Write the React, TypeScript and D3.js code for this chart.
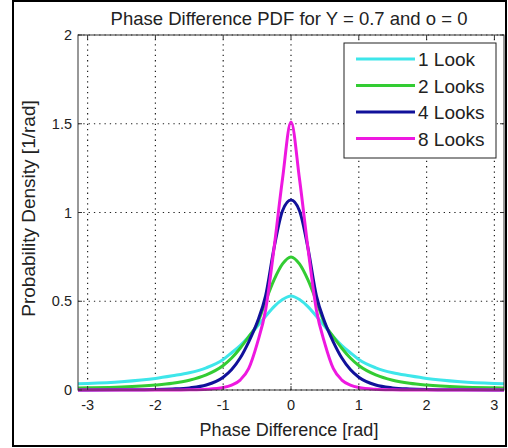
import * as d3 from 'd3';

// phase difference samples [rad]
const phase = [
  -3.1416, -3, -2.5, -2, -1.75, -1.5, -1.25, -1, -0.875, -0.75, -0.625, -0.5, -0.375, -0.25, -0.125, 0,
  0.125, 0.25, 0.375, 0.5, 0.625, 0.75, 0.875, 1, 1.25, 1.5, 1.75, 2, 2.5, 3, 3.1416,
];

// probability density [1/rad]
const look1 = [
  0.035, 0.037, 0.047, 0.065, 0.08, 0.097, 0.125, 0.172, 0.21, 0.25, 0.30, 0.357, 0.415, 0.47, 0.51, 0.53,
  0.51, 0.47, 0.415, 0.357, 0.30, 0.25, 0.21, 0.172, 0.125, 0.097, 0.08, 0.065, 0.047, 0.037, 0.035,
];
const looks2 = [
  0.011, 0.012, 0.017, 0.028, 0.038, 0.055, 0.085, 0.138, 0.18, 0.235, 0.30, 0.37, 0.50, 0.62, 0.71, 0.75,
  0.71, 0.62, 0.50, 0.37, 0.30, 0.235, 0.18, 0.138, 0.085, 0.055, 0.038, 0.028, 0.017, 0.012, 0.011,
];
const looks4 = [
  0, 0, 0.001, 0.003, 0.006, 0.012, 0.028, 0.072, 0.115, 0.18, 0.27, 0.38, 0.53, 0.80, 1.01, 1.07,
  1.01, 0.80, 0.53, 0.38, 0.27, 0.18, 0.115, 0.072, 0.028, 0.012, 0.006, 0.003, 0.001, 0, 0,
];
const looks8 = [
  0, 0, 0, 0, 0, 0.001, 0.004, 0.014, 0.028, 0.056, 0.12, 0.26, 0.45, 0.80, 1.19, 1.51,
  1.19, 0.80, 0.45, 0.26, 0.12, 0.056, 0.028, 0.014, 0.004, 0.001, 0, 0, 0, 0, 0,
];

const seriesNames = ['1 Look', '2 Looks', '4 Looks', '8 Looks'];
const seriesColors = ['#3ee6ea', '#33cc33', '#11119a', '#ee18e0'];
const seriesValues = [look1, looks2, looks4, looks8];

const xTicks = [-3, -2, -1, 0, 1, 2, 3];
const yTicks = [0, 0.5, 1, 1.5, 2];

const title = 'Phase Difference PDF for Y = 0.7 and o = 0';
const xLabel = 'Phase Difference [rad]';
const yLabel = 'Probability Density [1/rad]';

export default function App() {
  const W = 508, H = 448;
  const margin = {top: 35, right: 4, bottom: 58, left: 78};
  const x = d3.scaleLinear().domain([-Math.PI, Math.PI]).range([margin.left, W - margin.right]);
  const y = d3.scaleLinear().domain([0, 2]).range([H - margin.bottom, margin.top]);

  const line = d3.line<number>()
    .x((d, i) => x(phase[i]))
    .y(d => y(d))
    .curve(d3.curveMonotoneX);

  const font = '"Liberation Sans", Arial, sans-serif';
  const x0 = x.range()[0], x1 = x.range()[1];
  const y0 = y.range()[0], y1 = y.range()[1];

  // legend box
  const lg = {x: 344, y: 43, w: 152, h: 115};

  return (
    <svg width={W} height={H} style={{position: 'absolute', left: 0, top: 0, background: '#fff'}}
      fontFamily={font}>
      <rect x={13} y={1} width={493} height={445} fill="#fff" stroke="#000" strokeWidth={2} />

      {/* grid */}
      <g stroke="#222" strokeWidth={1.2} strokeDasharray="1.3,4">
        {xTicks.map(t => <line key={'gx' + t} x1={x(t)} x2={x(t)} y1={y0} y2={y1} />)}
        {yTicks.map(t => <line key={'gy' + t} x1={x0} x2={x1} y1={y(t)} y2={y(t)} />)}
      </g>

      {/* curves */}
      {seriesValues.map((vals, i) => (
        <path key={seriesNames[i]} d={line(vals) || ''} fill="none" stroke={seriesColors[i]}
          strokeWidth={3} strokeLinejoin="round" />
      ))}

      {/* axes box + ticks */}
      <rect x={x0} y={y1} width={x1 - x0} height={y0 - y1} fill="none" stroke="#333" strokeWidth={1} />
      <g stroke="#333" strokeWidth={1}>
        {xTicks.map(t => (
          <g key={'tx' + t}>
            <line x1={x(t)} x2={x(t)} y1={y0} y2={y0 - 4} />
            <line x1={x(t)} x2={x(t)} y1={y1} y2={y1 + 4} />
          </g>
        ))}
        {yTicks.map(t => (
          <g key={'ty' + t}>
            <line x1={x0} x2={x0 + 4} y1={y(t)} y2={y(t)} />
            <line x1={x1} x2={x1 - 4} y1={y(t)} y2={y(t)} />
          </g>
        ))}
      </g>

      {/* tick labels */}
      <g fontSize={14.5} fill="#222">
        {xTicks.map(t => (
          <text key={'lx' + t} x={x(t)} y={y0 + 20} textAnchor="middle">{t}</text>
        ))}
        {yTicks.map(t => (
          <text key={'ly' + t} x={x0 - 6} y={y(t) + 5} textAnchor="end">{t}</text>
        ))}
      </g>

      <text x={(x0 + x1) / 2 - 2} y={25} textAnchor="middle" fontSize={18.5} fill="#222">{title}</text>
      <text x={x(0) - 2} y={436} textAnchor="middle" fontSize={18} fill="#222">{xLabel}</text>
      <text transform={`translate(35,${(y0 + y1) / 2 - 4}) rotate(-90)`} textAnchor="middle" fontSize={19} fill="#222">{yLabel}</text>

      {/* legend */}
      <rect x={lg.x} y={lg.y} width={lg.w} height={lg.h} fill="#fff" stroke="#222" strokeWidth={1} />
      {seriesNames.map((name, i) => {
        const yy = lg.y + 16 + i * 26.5;
        return (
          <g key={'lg' + name}>
            <line x1={lg.x + 12} x2={lg.x + 71} y1={yy} y2={yy} stroke={seriesColors[i]} strokeWidth={3} />
            <text x={lg.x + 74} y={yy + 7} fontSize={19} fill="#222">{name}</text>
          </g>
        );
      })}
    </svg>
  );
}
